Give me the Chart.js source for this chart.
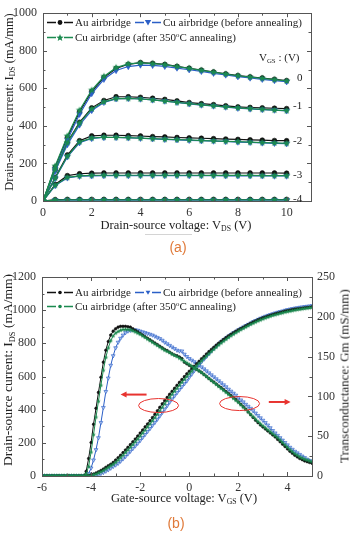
<!DOCTYPE html>
<html><head><meta charset="utf-8">
<script src="https://cdn.jsdelivr.net/npm/chart.js@4"></script>
<style>
html,body{margin:0;padding:0;background:#fff;}
#wrap{position:relative;width:350px;height:533px;overflow:hidden;font-family:"Liberation Serif","Times New Roman",serif;color:#222;}
canvas{position:absolute;left:0;}
.t{position:absolute;white-space:nowrap;line-height:1;transform:translate(-50%,-50%);}
.vt{position:absolute;white-space:nowrap;line-height:1;transform:translate(-50%,-50%) rotate(-90deg);}
sub{font-size:0.62em;vertical-align:-0.3em;line-height:0;}
sup{font-size:0.62em;vertical-align:0.5em;line-height:0;}
.cap{position:absolute;font-family:"Liberation Sans",Arial,sans-serif;color:#e07a3a;font-size:14px;transform:translate(-50%,-50%);line-height:1;}
.leg{position:absolute;font-size:11px;white-space:nowrap;display:flex;align-items:center;line-height:1;transform:translateY(-50%);}
.leg svg{margin-right:2px;}
.lab{position:absolute;font-size:11px;white-space:nowrap;line-height:1;transform:translateY(-50%);}
</style></head>
<body>
<div id="wrap">
  <canvas id="ca" width="350" height="220" style="top:0"></canvas>
  <canvas id="cb" width="350" height="235" style="top:260px"></canvas>

  <!-- chart (a) texts -->
  <div class="vt" style="left:9px;top:102px;font-size:12.5px">Drain-source current: I<sub>DS</sub> (mA/mm)</div>
  <div class="t" style="left:176px;top:225px;font-size:12.5px">Drain-source voltage: V<sub>DS</sub> (V)</div>
  <div style="position:absolute;left:145px;top:234px;width:47px;height:1px;background:#d4d4d4"></div>
  <div class="cap" style="left:178px;top:247px">(a)</div>

  <div class="leg" style="left:47px;top:22px"><svg width="26" height="10"><line x1="0" y1="5" x2="9" y2="5" stroke="#111" stroke-width="1.3"/><circle cx="13" cy="5" r="2.4" fill="#111"/><line x1="17" y1="5" x2="26" y2="5" stroke="#111" stroke-width="1.3"/></svg><span>Au airbridge</span></div>
  <div class="leg" style="left:135px;top:22px"><svg width="26" height="10"><line x1="0" y1="5" x2="9" y2="5" stroke="#2b5fc7" stroke-width="1.3"/><path d="M9.8 2.6 L16.2 2.6 L13 8 Z" fill="#2b5fc7"/><line x1="17" y1="5" x2="26" y2="5" stroke="#2b5fc7" stroke-width="1.3"/></svg><span>Cu airbridge (before annealing)</span></div>
  <div class="leg" style="left:47px;top:37px"><svg width="26" height="10"><line x1="0" y1="5" x2="9" y2="5" stroke="#1b8a4f" stroke-width="1.3"/><path d="M13 1.5 L14 4 L16.6 4.2 L14.6 5.9 L15.3 8.5 L13 7.1 L10.7 8.5 L11.4 5.9 L9.4 4.2 L12 4 Z" fill="#1b8a4f"/><line x1="17" y1="5" x2="26" y2="5" stroke="#1b8a4f" stroke-width="1.3"/></svg><span>Cu airbridge (after 350<sup>o</sup>C annealing)</span></div>

  <div class="lab" style="left:259px;top:57px">V<sub>GS</sub> : (V)</div>
  <div class="lab" style="left:297px;top:77px">0</div>
  <div class="lab" style="left:293px;top:105px">-1</div>
  <div class="lab" style="left:293px;top:140px">-2</div>
  <div class="lab" style="left:293px;top:174px">-3</div>
  <div class="lab" style="left:293px;top:198px">-4</div>

  <!-- chart (b) texts -->
  <div class="vt" style="left:8px;top:370px;font-size:13.5px">Drain-source current: I<sub>DS</sub> (mA/mm)</div>
  <div class="vt" style="left:344px;top:376px;font-size:13px">Transconductance: Gm (mS/mm)</div>
  <div class="t" style="left:184px;top:498px;font-size:12.5px">Gate-source voltage: V<sub>GS</sub> (V)</div>
  <div class="cap" style="left:176px;top:523px">(b)</div>

  <div class="leg" style="left:47px;top:292px"><svg width="26" height="10"><line x1="0" y1="5" x2="9" y2="5" stroke="#111" stroke-width="1.3"/><circle cx="13" cy="5" r="1.8" fill="#111"/><line x1="17" y1="5" x2="26" y2="5" stroke="#111" stroke-width="1.3"/></svg><span>Au airbridge</span></div>
  <div class="leg" style="left:135px;top:292px"><svg width="26" height="10"><line x1="0" y1="5" x2="9" y2="5" stroke="#2b5fc7" stroke-width="1.3"/><path d="M10.6 3.2 L15.4 3.2 L13 7.2 Z" fill="#2b5fc7"/><line x1="17" y1="5" x2="26" y2="5" stroke="#2b5fc7" stroke-width="1.3"/></svg><span>Cu airbridge (before annealing)</span></div>
  <div class="leg" style="left:47px;top:306px"><svg width="26" height="10"><line x1="0" y1="5" x2="9" y2="5" stroke="#1b8a4f" stroke-width="1.3"/><circle cx="13" cy="5" r="1.8" fill="#1b8a4f"/><line x1="17" y1="5" x2="26" y2="5" stroke="#1b8a4f" stroke-width="1.3"/></svg><span>Cu airbridge (after 350<sup>o</sup>C annealing)</span></div>
</div>

<script>
// ---------------- DATA: chart (a) output characteristics ----------------
const vds = [0,0.5,1,1.5,2,2.5,3,3.5,4,4.5,5,5.5,6,6.5,7,7.5,8,8.5,9,9.5,10];
const vgsSteps = ['0','-1','-2','-3','-4'];

const au0  = [0,180,338,475,583,658,706,728,737,733,727,717,707,697,687,677,668,661,655,648,641];
const cuB0 = [0,170,325,462,572,648,695,716,724,722,717,708,699,690,680,671,662,655,648,641,635];
const cuA0 = [0,186,346,483,590,663,710,730,735,731,726,716,706,696,686,676,667,660,653,646,639];

const au1  = [0,165,313,419,496,535,555,555,552,547,541,533,524,518,513,507,501,498,496,494,492];
const cuB1 = [0,158,300,405,482,525,544,546,543,538,532,525,517,511,506,500,494,490,487,484,480];
const cuA1 = [0,168,310,415,490,528,545,546,543,538,532,525,518,512,507,501,496,492,488,484,481];

const au2  = [0,125,245,321,347,350,350,348,346,343,341,338,336,334,332,330,328,326,324,322,321];
const cuB2 = [0,120,235,310,333,338,338,336,334,331,328,326,323,321,319,317,314,312,309,307,305];
const cuA2 = [0,122,238,315,335,340,339,337,335,332,329,327,325,322,320,318,316,313,311,309,307];

const au3  = [0,88,135,145,148,149,149,149,149,149,149,149,149,149,149,149,149,149,149,149,148];
const cuB3 = [0,82,123,132,134,135,135,135,135,135,135,135,135,135,135,134,134,134,134,133,133];
const cuA3 = [0,84,126,134,136,137,137,137,137,137,137,137,137,136,136,136,136,136,135,135,135];

const au4  = [0,7,8,8,8,8,8,8,8,8,8,8,8,8,8,8,8,8,8,8,8];
const cuB4 = [0,4,5,5,5,5,5,5,5,5,5,5,5,5,5,5,5,5,5,5,5];
const cuA4 = [0,5,6,6,6,6,6,6,6,6,6,6,6,6,6,6,6,6,6,6,6];

const xMajorA = [0,2,4,6,8,10];
const xMinorA = [1,3,5,7,9];
const yMajorA = [0,200,400,600,800,1000];
const yMinorA = [100,300,500,700,900];

// ---------------- DATA: chart (b) transfer characteristics ----------------
const vgs = [-6,-5.9,-5.8,-5.7,-5.6,-5.5,-5.4,-5.3,-5.2,-5.1,-5,-4.9,-4.8,-4.7,-4.6,-4.5,-4.4,-4.3,-4.2,-4.1,
  -4,-3.9,-3.8,-3.7,-3.6,-3.5,-3.4,-3.3,-3.2,-3.1,-3,-2.9,-2.8,-2.7,-2.6,-2.5,-2.4,-2.3,-2.2,-2.1,
  -2,-1.9,-1.8,-1.7,-1.6,-1.5,-1.4,-1.3,-1.2,-1.1,-1,-0.9,-0.8,-0.7,-0.6,-0.5,-0.4,-0.3,-0.2,-0.1,
  0,0.1,0.2,0.3,0.4,0.5,0.6,0.7,0.8,0.9,1,1.1,1.2,1.3,1.4,1.5,1.6,1.7,1.8,1.9,
  2,2.1,2.2,2.3,2.4,2.5,2.6,2.7,2.8,2.9,3,3.1,3.2,3.3,3.4,3.5,3.6,3.7,3.8,3.9,
  4,4.1,4.2,4.3,4.4,4.5,4.6,4.7,4.8,4.9,5];

const idsAu = [0,0,0,0,0,0,0,0,0,0,0,0,0,0,0,0,0,0,
  1,3,7,12,18,25,33,42,52,62,71,82,96,110,125,141,157,173,189,206,
  223,241,259,277,296,314,333,352,372,393,414,435,455,474,493,511,529,547,565,582,599,616,
  632,647,662,677,692,707,721,736,750,763,776,789,801,813,824,835,845,855,864,873,
  881,889,897,905,913,921,928,935,942,948,954,959,964,969,974,978,982,986,990,994,
  997,1000,1003,1006,1008,1010,1012,1014,1016,1018,1020];
const idsCuB = [0,0,0,0,0,0,0,0,0,0,0,0,0,0,0,0,0,0,0,0,
  1,2,5,9,15,21,29,37,47,57,66,76,89,103,117,133,149,165,181,197,
  214,232,250,268,286,305,323,342,362,383,403,424,445,464,483,502,520,538,556,573,
  595,614,634,653,672,689,705,721,737,753,768,782,796,809,821,832,843,853,863,872,
  881,890,898,906,914,922,930,937,944,951,957,963,968,973,978,983,987,991,995,999,
  1003,1006,1009,1012,1014,1017,1019,1021,1023,1025,1027];
const idsCuA = [0,0,0,0,0,0,0,0,0,0,0,0,0,0,0,0,0,0,0,
  1,3,7,12,18,25,33,42,52,62,71,82,96,110,125,141,157,173,189,206,
  223,241,259,277,296,314,333,352,372,393,414,435,455,474,493,511,529,547,565,582,599,
  616,632,648,664,679,694,709,723,737,751,764,777,790,802,813,824,835,845,855,864,
  873,882,890,898,906,914,921,928,935,941,947,953,958,963,968,972,976,980,984,988,
  991,994,997,1000,1003,1005,1008,1010,1012,1014,1016];

const gmAu = [0,0,0,0,0,0,0,0,0,0,0,0,0,0,0,0,0,0,
  6,22,42,65,85,105,124,143,158,169,177,182,185,187,188,188,188,187.5,187,185,
  183,181,179,177,175,173,171,169,167,165,163,161,159,157.5,155.5,153.5,152,151,149.5,147.5,143,141,
  139,137.5,136,134,132,130,127.5,125,122.5,120,118,115.5,113,111,108.5,106,103.5,101,98.5,96,
  93,90,87,84,80.5,77,73.5,70,67,64,61.5,59,56.5,54,51.5,49,46,43,40,37,
  34,31,28.5,26,24,22,20.5,19,18,17,16];
const gmCuB = [0,0,0,0,0,0,0,0,0,0,0,0,0,0,0,0,0,0,0,
  3,10,20,33,48,67,86,106,123,139,151,161,168,173,177,180,182,183,183.5,183.5,
  183,182,181,180,179,178,177,175.5,174,172.5,170.5,168,166,164,162,160,158,157,157,153,150,
  147.5,145.5,143.5,141.5,139,137,134.5,132,129.5,127,124.5,122,119.5,117,114.5,112,109,106.5,104,101.5,
  98.5,95.5,93,90,87.5,85,82,79,76,73,70,67,64,60.5,57,54,51,48,45,42,
  39,36,33.5,31,29,27,25,23,21,19.5,18];
const gmCuA = [0,0,0,0,0,0,0,0,0,0,0,0,0,0,0,0,0,0,
  3,12,30,52,74,94,114,133,149,161,170,176,179.5,181.5,183,184,184,184,183.5,182.5,
  181,179.5,178,176,174,172,170,168,166,164,162,160,158,156.5,155,153,151.5,150,148,146,144,142,
  140,138,136,134,132,130,127.5,125,122.5,120,117.5,115,112.5,110,107.5,105,102.5,100,97.5,95,
  92.5,89.5,86.5,83.5,80.5,77.5,74.5,71.5,68.5,65.5,63,60.5,58,55.5,53,50.5,48,45,42,39,
  36,33,30.5,28,26,24,22.5,21,20,19,18];

const xMajorB = [-6,-4,-2,0,2,4];
const xMinorB = [-5,-3,-1,1,3];
const yMajorB = [0,200,400,600,800,1000,1200];
const yMinorB = [100,300,500,700,900,1100];
const gmMajorB = [0,50,100,150,200,250];
const gmMinorB = [25,75,125,175,225];

// annotation anchors (data units): ellipses and arrows
const ellipseIds = {x:-1.25, y:425};
const ellipseGm  = {x:2.05, y:91};
const arrowIds = {x1:-1.74, x2:-2.8, y:491};
const arrowGm  = {x1:3.24, x2:4.13, y:93};

// ---------------- styling ----------------
const C_AU = '#111111', C_CUB = '#2b5fc7', C_CUA = '#1b8a4f';
const FONT = {family:'"Liberation Serif","Times New Roman",serif', size:12};
const AX = '#555';
const plain = v => String(v);

function makeStar(r, color){
  const c = document.createElement('canvas');
  const s = Math.ceil(r*2+2); c.width = s; c.height = s;
  const g = c.getContext('2d'); g.fillStyle = color; g.beginPath();
  for (let i=0;i<10;i++){
    const rr = i%2===0 ? r : r*0.45;
    const a = -Math.PI/2 + i*Math.PI/5;
    const px = s/2 + rr*Math.cos(a), py = s/2 + rr*Math.sin(a);
    i===0 ? g.moveTo(px,py) : g.lineTo(px,py);
  }
  g.closePath(); g.fill(); return c;
}
const starA = makeStar(3.8, C_CUA);
const starB = makeStar(2.4, C_CUA);

function inwardTicks(specs){
  return { id:'inTicks', afterDraw(chart){
    const ctx = chart.ctx, a = chart.chartArea;
    ctx.save(); ctx.strokeStyle = AX; ctx.lineWidth = 1;
    specs.forEach(sp => {
      const sc = chart.scales[sp.scale];
      sp.values.forEach(v => {
        const p = Math.round(sc.getPixelForValue(v)) + 0.5;
        ctx.beginPath();
        if (sp.side==='bottom'){ ctx.moveTo(p,a.bottom); ctx.lineTo(p,a.bottom-sp.len); }
        else if (sp.side==='top'){ ctx.moveTo(p,a.top); ctx.lineTo(p,a.top+sp.len); }
        else if (sp.side==='left'){ ctx.moveTo(a.left,p); ctx.lineTo(a.left+sp.len,p); }
        else { ctx.moveTo(a.right,p); ctx.lineTo(a.right-sp.len,p); }
        ctx.stroke();
      });
    });
    ctx.restore();
  }};
}

function lin(opts){ return Object.assign({type:'linear', grid:{display:false, drawTicks:false}, border:{display:true, color:AX, width:1}}, opts); }

// ---------------- chart (a) ----------------
const curvesA = [
  [au0,au1,au2,au3,au4],
  [cuB0,cuB1,cuB2,cuB3,cuB4],
  [cuA0,cuA1,cuA2,cuA3,cuA4]
];
const styleA = [
  {borderColor:C_AU, backgroundColor:C_AU, pointStyle:'circle', pointRadius:2.4, order:2},
  {borderColor:C_CUB, backgroundColor:C_CUB, pointStyle:'triangle', rotation:180, pointRadius:3.2, order:1},
  {borderColor:C_CUA, backgroundColor:C_CUA, pointStyle:starA, pointRadius:3.8, order:0}
];
const dsA = [];
curvesA.forEach((group, gi) => group.forEach((vals, k) => {
  dsA.push(Object.assign({
    label: ['Au airbridge','Cu airbridge (before annealing)','Cu airbridge (after 350°C annealing)'][gi] + ' VGS=' + vgsSteps[k],
    data: vds.map((x,i)=>({x, y: vals[i]})),
    xAxisID:'x', yAxisID:'y', borderWidth:1.2, pointBorderWidth:0.6, tension:0, fill:false
  }, styleA[gi]));
}));

new Chart(document.getElementById('ca'), {
  type:'line',
  data:{datasets:dsA},
  options:{
    responsive:false, animation:false, events:[],
    layout:{padding:0, autoPadding:false},
    plugins:{legend:{display:false}, tooltip:{enabled:false}},
    scales:{
      x: lin({position:'bottom', min:0, max:11, ticks:{stepSize:2, includeBounds:false, padding:5, font:FONT, color:'#333', maxRotation:0, callback:plain}, afterFit:s=>{s.height=19;}}),
      xTop: lin({position:'top', min:0, max:11, ticks:{display:false}, afterFit:s=>{s.height=5;}}),
      y: lin({position:'left', min:0, max:1000, ticks:{stepSize:200, padding:6, font:FONT, color:'#333', callback:plain}, afterFit:s=>{s.width=43;}}),
      yRight: lin({position:'right', min:0, max:1000, ticks:{display:false}, afterFit:s=>{s.width=39;}})
    }
  },
  plugins:[inwardTicks([
    {scale:'x', side:'bottom', values:xMajorA, len:4},{scale:'x', side:'bottom', values:xMinorA, len:2.5},
    {scale:'x', side:'top', values:xMajorA, len:4},{scale:'x', side:'top', values:xMinorA, len:2.5},
    {scale:'y', side:'left', values:yMajorA, len:4},{scale:'y', side:'left', values:yMinorA, len:2.5},
    {scale:'y', side:'right', values:yMajorA, len:4},{scale:'y', side:'right', values:yMinorA, len:2.5}
  ])]
});

// ---------------- chart (b) ----------------
function ptsB(vals){ return vgs.map((x,i)=>({x, y: vals[i]})); }
const dsB = [
  {label:'Au airbridge IDS', data:ptsB(idsAu), yAxisID:'yl', borderColor:C_AU, backgroundColor:C_AU, pointStyle:'circle', pointRadius:1.3, order:1},
  {label:'Cu airbridge (before annealing) IDS', data:ptsB(idsCuB), yAxisID:'yl', borderColor:C_CUB, backgroundColor:'#a9c0ee', pointStyle:'triangle', rotation:180, pointRadius:2.2, order:2},
  {label:'Cu airbridge (after 350°C annealing) IDS', data:ptsB(idsCuA), yAxisID:'yl', borderColor:C_CUA, backgroundColor:C_CUA, pointStyle:starB, pointRadius:2.4, order:0},
  {label:'Au airbridge Gm', data:ptsB(gmAu), yAxisID:'yr', borderColor:C_AU, backgroundColor:C_AU, pointStyle:'circle', pointRadius:1.3, order:1},
  {label:'Cu airbridge (before annealing) Gm', data:ptsB(gmCuB), yAxisID:'yr', borderColor:C_CUB, backgroundColor:'#a9c0ee', pointStyle:'triangle', rotation:180, pointRadius:2.2, order:2},
  {label:'Cu airbridge (after 350°C annealing) Gm', data:ptsB(gmCuA), yAxisID:'yr', borderColor:C_CUA, backgroundColor:C_CUA, pointStyle:starB, pointRadius:2.4, order:0}
].map(d => Object.assign({xAxisID:'x', borderWidth:1, pointBorderWidth:0.6, tension:0, fill:false}, d));

const annotB = { id:'annot', afterDatasetsDraw(chart){
  const ctx = chart.ctx, sx = chart.scales.x, yl = chart.scales.yl, yr = chart.scales.yr;
  ctx.save(); ctx.strokeStyle = '#e8332f'; ctx.fillStyle = '#e8332f';
  ctx.lineWidth = 1;
  [[ellipseIds, yl],[ellipseGm, yr]].forEach(([e, sc]) => {
    ctx.beginPath(); ctx.ellipse(sx.getPixelForValue(e.x), sc.getPixelForValue(e.y), 20, 7, 0, 0, Math.PI*2); ctx.stroke();
  });
  ctx.lineWidth = 2;
  [[arrowIds, yl],[arrowGm, yr]].forEach(([a, sc]) => {
    const x1 = sx.getPixelForValue(a.x1), x2 = sx.getPixelForValue(a.x2), y = sc.getPixelForValue(a.y);
    const dir = Math.sign(x2 - x1);
    ctx.beginPath(); ctx.moveTo(x1, y); ctx.lineTo(x2 - dir*4, y); ctx.stroke();
    ctx.beginPath(); ctx.moveTo(x2, y); ctx.lineTo(x2 - dir*6, y-3); ctx.lineTo(x2 - dir*6, y+3); ctx.closePath(); ctx.fill();
  });
  ctx.restore();
}};

new Chart(document.getElementById('cb'), {
  type:'line',
  data:{datasets:dsB},
  options:{
    responsive:false, animation:false, events:[],
    layout:{padding:0, autoPadding:false},
    plugins:{legend:{display:false}, tooltip:{enabled:false}},
    scales:{
      x: lin({position:'bottom', min:-6, max:5, ticks:{stepSize:2, includeBounds:false, padding:5, font:FONT, color:'#333', maxRotation:0, callback:plain}, afterFit:s=>{s.height=19;}}),
      xTop: lin({position:'top', min:-6, max:5, ticks:{display:false}, afterFit:s=>{s.height=17;}}),
      yl: lin({position:'left', min:0, max:1200, ticks:{stepSize:200, padding:6, font:FONT, color:'#333', callback:plain}, afterFit:s=>{s.width=42;}}),
      yr: lin({position:'right', min:0, max:250, ticks:{stepSize:50, padding:5, font:FONT, color:'#333', callback:plain}, afterFit:s=>{s.width=38;}})
    }
  },
  plugins:[annotB, inwardTicks([
    {scale:'x', side:'bottom', values:xMajorB, len:4},{scale:'x', side:'bottom', values:xMinorB, len:2.5},
    {scale:'x', side:'top', values:xMajorB, len:4},{scale:'x', side:'top', values:xMinorB, len:2.5},
    {scale:'yl', side:'left', values:yMajorB, len:4},{scale:'yl', side:'left', values:yMinorB, len:2.5},
    {scale:'yr', side:'right', values:gmMajorB, len:4},{scale:'yr', side:'right', values:gmMinorB, len:2.5}
  ])]
});
</script>
</body></html>
